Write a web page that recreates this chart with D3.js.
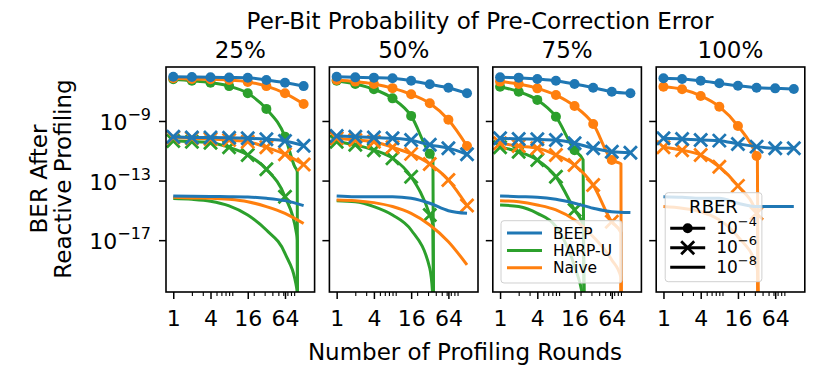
<!DOCTYPE html>
<html>
<head>
<meta charset="utf-8">
<script src="https://cdn.jsdelivr.net/npm/d3@7"></script>
<style>
body { margin: 0; background: #fff; }
svg { font-family: "DejaVu Sans", sans-serif; }
</style>
</head>
<body>
<div id="chart"></div>
<script>
var probabilities = ["25%", "50%", "75%", "100%"];
var methods = ["BEEP", "HARP-U", "Naive"];
var methodColors = ["#1f77b4", "#2ca02c", "#ff7f0e"];
var rberExponents = ["\u22124", "\u22126", "\u22128"];
var rberMarkers = ["circle", "cross", "none"];
var rounds = [1, 2, 4, 8, 16, 32, 64, 128];
var xTickValues = [1, 4, 16, 64];
var xMinorValues = [2, 3, 5, 6, 7, 8, 9, 20, 30, 40, 50, 60, 70, 80, 90];
var yTickValues = [1e-9, 1e-13, 1e-17];
var yTickExponents = ["\u22129", "\u221213", "\u221217"];

// rows: RBER 1e-4, 1e-6, 1e-8 ; columns follow `rounds`
var beep25 = [
	[9.3e-7, 8.9e-7, 8.7e-7, 8.3e-7, 7.9e-7, 5.6e-7, 3.7e-7, 2.2e-7],
	[8.9e-11, 7.9e-11, 7.9e-11, 7.6e-11, 6.9e-11, 5.9e-11, 4.6e-11, 2.2e-11],
	[9.3e-15, 8.9e-15, 8.5e-15, 8.3e-15, 7.9e-15, 6.5e-15, 4.5e-15, 2.1e-15]
];
var harp25 = [
	[6.3e-7, 5.0e-7, 3.7e-7, 2.2e-7, 7.2e-8, 6.5e-9, 8.9e-11],
	[4.6e-11, 4.1e-11, 3.5e-11, 1.7e-11, 5.2e-12, 5.8e-13, 8.3e-15],
	[6.2e-15, 5.5e-15, 4.1e-15, 2.0e-15, 4.9e-16, 4.8e-17, 1.3e-18]
];
var harp25Drop = [
	[[92, 8.5e-13], [101, 4.0e-13], [102, 0]],
	[[98, 2.9e-17], [101, 1.0e-17], [102, 0]],
	[[100, 4.6e-21], [102, 0]]
];
var naive25 = [
	[7.4e-7, 6.6e-7, 6.3e-7, 5.6e-7, 4.2e-7, 2.2e-7, 7.2e-8, 1.4e-8],
	[7.9e-11, 6.9e-11, 6.2e-11, 5.2e-11, 4.1e-11, 1.7e-11, 5.8e-12, 1.2e-12],
	[7.6e-15, 6.8e-15, 6.5e-15, 5.5e-15, 3.8e-15, 1.8e-15, 6.3e-16, 1.3e-16]
];

var beep50 = [
	[9.3e-7, 8.5e-7, 8.1e-7, 7.4e-7, 5.0e-7, 2.9e-7, 1.7e-7, 7.2e-8],
	[9.8e-11, 8.9e-11, 7.9e-11, 6.9e-11, 5.2e-11, 2.5e-11, 1.5e-11, 5.8e-12],
	[9.3e-15, 8.3e-15, 8.3e-15, 8.3e-15, 6.5e-15, 3.0e-15, 9.5e-16, 6.3e-16]
];
var harp50 = [
	[5.0e-7, 3.0e-7, 1.35e-7, 3.3e-8, 2.2e-9, 6.2e-12],
	[4.1e-11, 2.5e-11, 1.1e-11, 3.2e-12, 1.8e-13, 4.9e-16],
	[4.5e-15, 3.8e-15, 1.8e-15, 4.9e-16, 4.8e-17, 1.3e-19]
];
var harp50Drop = [
	[[36, 3.5e-12], [37, 0]],
	[[36, 1.0e-16], [37, 0]],
	[[36, 1.0e-21], [37, 0]]
];
var naive50 = [
	[5.6e-7, 4.4e-7, 3.0e-7, 1.6e-7, 6.2e-8, 1.55e-8, 1.2e-9, 2.1e-11],
	[6.9e-11, 5.2e-11, 4.1e-11, 1.7e-11, 6.2e-12, 1.3e-12, 1.1e-13, 2.1e-15],
	[5.0e-15, 4.5e-15, 3.3e-15, 1.8e-15, 6.3e-16, 1.05e-16, 7.9e-18, 2.2e-19]
];

var beep75 = [
	[8.5e-7, 8.1e-7, 6.6e-7, 5.0e-7, 3.0e-7, 1.7e-7, 9.3e-8, 7.2e-8],
	[6.9e-11, 6.2e-11, 5.9e-11, 5.2e-11, 3.2e-11, 1.5e-11, 8.7e-12, 7.4e-12],
	[9.3e-15, 8.3e-15, 7.6e-15, 5.5e-15, 3.0e-15, 1.4e-15, 8.1e-16, 7.1e-16]
];
var harp75 = [
	[2.0e-7, 9.3e-8, 2.6e-8, 1.95e-9, 1.1e-11],
	[1.7e-11, 8.7e-12, 2.4e-12, 1.8e-13, 1.07e-15],
	[2.3e-15, 1.8e-15, 6.3e-16, 8.1e-17, 1.7e-19]
];
var harp75Drop = [
	[[22, 2.5e-12], [23, 0]],
	[[22, 1.0e-16], [23, 0]],
	[[22, 1.0e-21], [23, 0]]
];
var naive75 = [
	[4.4e-7, 3.0e-7, 1.55e-7, 5.5e-8, 1.0e-8, 6.3e-10, 2.4e-12],
	[3.2e-11, 2.1e-11, 1.5e-11, 5.2e-12, 1.1e-12, 5.0e-14, 1.7e-16],
	[4.5e-15, 3.8e-15, 2.3e-15, 1.07e-15, 2.3e-16, 1.7e-17, 4.7e-19]
];
var naive75Drop = [
	[[90, 1.3e-12], [91, 0]],
	[[90, 3.2e-17], [91, 0]],
	[[90, 3.2e-20], [91, 0]]
];

var beep100 = [
	[7.4e-7, 6.6e-7, 5.0e-7, 3.4e-7, 2.3e-7, 1.7e-7, 1.55e-7, 1.4e-7],
	[6.9e-11, 6.2e-11, 5.2e-11, 4.8e-11, 2.9e-11, 1.9e-11, 1.5e-11, 1.5e-11],
	[8.3e-15, 7.6e-15, 6.5e-15, 6.5e-15, 3.0e-15, 1.8e-15, 1.8e-15, 1.8e-15]
];
var harp100 = [[], [], []];
var naive100 = [
	[2.0e-7, 1.35e-7, 4.8e-8, 9.1e-9, 4.6e-10, 4.5e-12],
	[1.7e-11, 1.1e-11, 5.2e-12, 8.5e-13, 4.4e-14, 6.3e-16],
	[1.8e-15, 1.4e-15, 8.1e-16, 2.3e-16, 1.7e-17, 1.7e-19]
];
var naive100Drop = [
	[[33, 3.2e-12], [34, 0]],
	[[33, 4.0e-16], [34, 0]],
	[[33, 1.0e-19], [34, 0]]
];

var panels = [
	{ label: probabilities[0], series: [beep25, harp25, naive25], drops: [null, harp25Drop, null] },
	{ label: probabilities[1], series: [beep50, harp50, naive50], drops: [null, harp50Drop, null] },
	{ label: probabilities[2], series: [beep75, harp75, naive75], drops: [null, harp75Drop, naive75Drop] },
	{ label: probabilities[3], series: [beep100, harp100, naive100], drops: [null, null, naive100Drop] }
];

var chartWidth = 830, chartHeight = 374;
var plotLeft = 166, plotTop = 67, panelW = 148.6, panelH = 225, gap = 14.8;
var lineW = 3;

var svg = d3.select('#chart').append('svg')
	.attr('width', chartWidth)
	.attr('height', chartHeight);

svg.append('clipPath').attr('id', 'plot-clip')
	.append('rect').attr('width', panelW).attr('height', panelH);

var x = d3.scaleLog().base(2)
	.domain([Math.pow(2, -0.39), Math.pow(2, 7.59)])
	.range([0, panelW]);

var y = d3.scaleLog()
	.domain([Math.pow(10, -20.48), Math.pow(10, -5.376)])
	.range([panelH, 0]);

var yPos = function (v) { return v > 0 ? y(v) : panelH + 40; };

var line = d3.line()
	.x(function (d) { return x(d[0]); })
	.y(function (d) { return yPos(d[1]); })
	.curve(d3.curveMonotoneX);

var drawOrder = [1, 2, 0]; // HARP-U, Naive, then BEEP on top

panels.forEach(function (panel, pi) {
	var g = svg.append('g')
		.attr('transform', 'translate(' + (plotLeft + pi * (panelW + gap)) + ',' + plotTop + ')');

	g.append('text')
		.attr('x', panelW / 2)
		.attr('y', -9)
		.attr('text-anchor', 'middle')
		.attr('font-size', 23)
		.text(panel.label);

	var plot = g.append('g').attr('clip-path', 'url(#plot-clip)');

	drawOrder.forEach(function (mi) {
		var color = methodColors[mi];
		panel.series[mi].forEach(function (vals, ri) {
			if (!vals.length) return;
			var pts = vals.map(function (v, i) { return [rounds[i], v]; });
			var marks = pts.filter(function (d) { return d[1] > 0; });
			if (panel.drops[mi]) pts = pts.concat(panel.drops[mi][ri]);

			plot.append('path')
				.datum(pts)
				.attr('fill', 'none')
				.attr('stroke', color)
				.attr('stroke-width', lineW)
				.attr('stroke-linejoin', 'round')
				.attr('d', line);

			if (rberMarkers[ri] === 'circle') {
				plot.selectAll(null).data(marks).enter().append('circle')
					.attr('cx', function (d) { return x(d[0]); })
					.attr('cy', function (d) { return y(d[1]); })
					.attr('r', 5)
					.attr('fill', color);
			} else if (rberMarkers[ri] === 'cross') {
				plot.selectAll(null).data(marks).enter().append('path')
					.attr('transform', function (d) { return 'translate(' + x(d[0]) + ',' + y(d[1]) + ')'; })
					.attr('d', 'M-6.5,-6.5L6.5,6.5M-6.5,6.5L6.5,-6.5')
					.attr('stroke', color)
					.attr('stroke-width', 2.8)
					.attr('fill', 'none');
			}
		});
	});

	// x axis: major + minor ticks
	var xMajor = g.append('g')
		.attr('transform', 'translate(0,' + panelH + ')')
		.call(d3.axisBottom(x).tickValues(xTickValues).tickSize(7).tickFormat(d3.format('d')));
	xMajor.select('.domain').remove();
	xMajor.attr('font-family', null).attr('font-size', null);
	xMajor.selectAll('line').attr('stroke-width', 1.5);
	xMajor.selectAll('text')
		.attr('y', 34).attr('dy', 0)
		.attr('font-size', 22)
		.attr('fill', '#000');

	var xMinor = g.append('g')
		.attr('transform', 'translate(0,' + panelH + ')')
		.call(d3.axisBottom(x).tickValues(xMinorValues).tickSize(4).tickFormat(''));
	xMinor.select('.domain').remove();
	xMinor.selectAll('line').attr('stroke-width', 1.1);

	// y axis
	var yAxis = g.append('g')
		.call(d3.axisLeft(y).tickValues(yTickValues).tickSize(7).tickFormat(''));
	yAxis.select('.domain').remove();
	yAxis.selectAll('line').attr('stroke-width', 1.5);

	if (pi === 0) {
		yTickValues.forEach(function (v, i) {
			var t = g.append('text')
				.attr('x', -15)
				.attr('y', y(v) + 9)
				.attr('text-anchor', 'end')
				.attr('font-size', 22);
			t.append('tspan').text('10');
			t.append('tspan').attr('dy', -10).attr('font-size', 16).text(yTickExponents[i]);
		});
	}

	// spines
	g.append('rect')
		.attr('width', panelW)
		.attr('height', panelH)
		.attr('fill', 'none')
		.attr('stroke', '#000')
		.attr('stroke-width', 1.6);

	// legends
	if (pi === 2) {
		var lg = g.append('g').attr('transform', 'translate(8.2,153.7)');
		lg.append('rect')
			.attr('width', 121).attr('height', 62.3).attr('rx', 3)
			.attr('fill', '#fff').attr('fill-opacity', 0.8)
			.attr('stroke', '#d0d0d0').attr('stroke-width', 1);
		methods.forEach(function (m, i) {
			var cy = 12.3 + i * 17.4;
			lg.append('line')
				.attr('x1', 6).attr('x2', 41).attr('y1', cy).attr('y2', cy)
				.attr('stroke', methodColors[i]).attr('stroke-width', lineW);
			lg.append('text')
				.attr('x', 52).attr('y', cy + 5.6)
				.attr('font-size', 15.5)
				.text(m);
		});
	}
	if (pi === 3) {
		var rg = g.append('g').attr('transform', 'translate(9,125.7)');
		rg.append('rect')
			.attr('width', 96.7).attr('height', 89).attr('rx', 3)
			.attr('fill', '#fff').attr('fill-opacity', 0.8)
			.attr('stroke', '#d0d0d0').attr('stroke-width', 1);
		rg.append('text')
			.attr('x', 48.3).attr('y', 20)
			.attr('text-anchor', 'middle')
			.attr('font-size', 18)
			.text('RBER');
		rberExponents.forEach(function (e, i) {
			var cy = 35.6 + i * 19.5;
			rg.append('line')
				.attr('x1', 5).attr('x2', 40).attr('y1', cy).attr('y2', cy)
				.attr('stroke', '#000').attr('stroke-width', lineW);
			if (rberMarkers[i] === 'circle') {
				rg.append('circle').attr('cx', 22.5).attr('cy', cy).attr('r', 5).attr('fill', '#000');
			} else if (rberMarkers[i] === 'cross') {
				rg.append('path')
					.attr('transform', 'translate(22.5,' + cy + ')')
					.attr('d', 'M-6.5,-6.5L6.5,6.5M-6.5,6.5L6.5,-6.5')
					.attr('stroke', '#000').attr('stroke-width', 2.8);
			}
			var t = rg.append('text')
				.attr('x', 51).attr('y', cy + 5.5)
				.attr('font-size', 17);
			t.append('tspan').text('10');
			t.append('tspan').attr('dy', -8).attr('font-size', 13).text(e);
		});
	}
});

// overall labels
svg.append('text')
	.attr('x', 480).attr('y', 29)
	.attr('text-anchor', 'middle')
	.attr('font-size', 23)
	.text('Per-Bit Probability of Pre-Correction Error');

svg.append('text')
	.attr('x', 465).attr('y', 360)
	.attr('text-anchor', 'middle')
	.attr('font-size', 23)
	.text('Number of Profiling Rounds');

var yl = svg.append('text')
	.attr('transform', 'translate(47,179) rotate(-90)')
	.attr('text-anchor', 'middle')
	.attr('font-size', 23);
yl.append('tspan').attr('x', 0).attr('y', 0).text('BER After');
yl.append('tspan').attr('x', 0).attr('y', 24).text('Reactive Profiling');
</script>
</body>
</html>
